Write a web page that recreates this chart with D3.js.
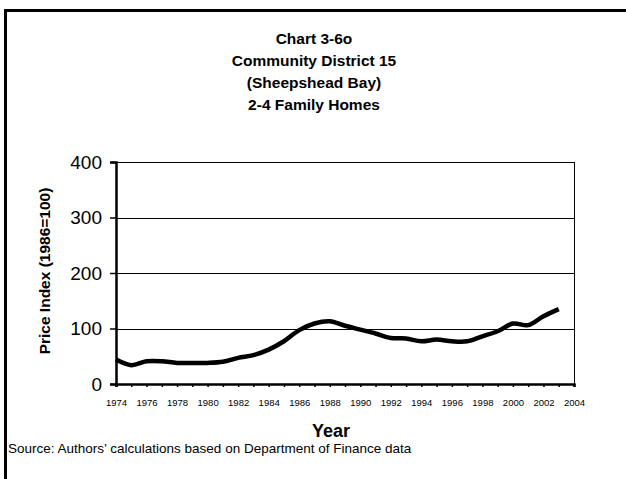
<!DOCTYPE html>
<html>
<head>
<meta charset="utf-8">
<script src="https://cdn.jsdelivr.net/npm/d3@7"></script>
<style>
  html, body { margin: 0; padding: 0; background: #fff; }
  svg { display: block; font-family: "Liberation Sans", Arial, sans-serif; }
</style>
</head>
<body>
<svg id="chart" width="626" height="479"></svg>
<script>
const titleLines = ["Chart 3-6o", "Community District 15", "(Sheepshead Bay)", "2-4 Family Homes"];
const years = [1974, 1975, 1976, 1977, 1978, 1979, 1980, 1981, 1982, 1983, 1984, 1985, 1986, 1987, 1988,
               1989, 1990, 1991, 1992, 1993, 1994, 1995, 1996, 1997, 1998, 1999, 2000, 2001, 2002, 2003];
const priceIndex = [44, 34, 41, 41, 38, 38, 38, 40, 47, 52, 62, 77, 97, 109, 113,
                    105, 98, 91, 83, 82, 77, 80, 77, 77, 86, 95, 109, 106, 122, 135];
const yTicks = [0, 100, 200, 300, 400];
const xTickLabels = [1974, 1976, 1978, 1980, 1982, 1984, 1986, 1988, 1990, 1992, 1994, 1996, 1998, 2000, 2002, 2004];
const xAxisTitle = "Year";
const yAxisTitle = "Price Index (1986=100)";
const sourceNote = "Source: Authors\u2019 calculations based on Department of Finance data";

const FONT = "'Liberation Sans', Arial, sans-serif";
const svg = d3.select("#chart");
const plot = { left: 116, right: 574, top: 162, bottom: 384 };

// outer frame
svg.append("rect")
  .attr("x", 5.5).attr("y", 10.5)
  .attr("width", 700).attr("height", 600)
  .attr("fill", "none").attr("stroke", "#000").attr("stroke-width", 3);

// title
svg.append("g").selectAll("text").data(titleLines).join("text")
  .attr("x", 314).attr("y", (d, i) => 44 + i * 22)
  .attr("text-anchor", "middle")
  .attr("font-size", 15.5).attr("font-weight", "bold")
  .text(d => d);

const x = d3.scaleLinear().domain([1974, 2004]).range([plot.left, plot.right]);
const y = d3.scaleLinear().domain([0, 400]).range([plot.bottom, plot.top]);

// gridlines
svg.append("g").selectAll("line").data(yTicks.filter(d => d > 0)).join("line")
  .attr("x1", plot.left).attr("x2", plot.right)
  .attr("y1", d => Math.round(y(d)) + 0.5).attr("y2", d => Math.round(y(d)) + 0.5)
  .attr("stroke", "#000").attr("stroke-width", 1);

// right border
svg.append("line")
  .attr("x1", plot.right + 0.5).attr("x2", plot.right + 0.5)
  .attr("y1", plot.top).attr("y2", plot.bottom)
  .attr("stroke", "#000").attr("stroke-width", 1);

// y axis
const yAxis = svg.append("g").attr("transform", `translate(${plot.left},0)`)
  .call(d3.axisLeft(y).tickValues(yTicks).tickSize(6).tickPadding(8));
yAxis.select(".domain").attr("stroke-width", 2.5);
yAxis.selectAll(".tick line").attr("stroke-width", 1.5);
yAxis.selectAll("text").attr("font-size", 19).attr("font-family", FONT).attr("fill", "#000");

// x axis
const xAxis = svg.append("g").attr("transform", `translate(0,${plot.bottom})`)
  .call(d3.axisBottom(x).tickValues(d3.range(1974, 2005)).tickSize(3).tickPadding(12)
    .tickFormat(d => xTickLabels.includes(d) ? String(d) : ""));
xAxis.select(".domain").attr("stroke-width", 2.5);
xAxis.selectAll(".tick line").attr("stroke-width", 1.5);
xAxis.selectAll("text").attr("font-size", 9.5).attr("font-family", FONT).attr("fill", "#000");

// series line
const line = d3.line()
  .x((d, i) => x(years[i]))
  .y(d => y(d))
  .curve(d3.curveCatmullRom.alpha(0.5));
svg.append("path")
  .datum(priceIndex)
  .attr("d", line)
  .attr("fill", "none").attr("stroke", "#000").attr("stroke-width", 4.5)
  .attr("stroke-linejoin", "round").attr("stroke-linecap", "butt");

// axis titles
svg.append("text")
  .attr("x", 331).attr("y", 437)
  .attr("text-anchor", "middle")
  .attr("font-size", 18).attr("font-weight", "bold")
  .text(xAxisTitle);

svg.append("text")
  .attr("transform", "translate(50,271) rotate(-90)")
  .attr("text-anchor", "middle")
  .attr("font-size", 15.5).attr("font-weight", "bold")
  .text(yAxisTitle);

// source
svg.append("text")
  .attr("x", 8).attr("y", 453)
  .attr("font-size", 13.5)
  .text(sourceNote);
</script>
</body>
</html>
